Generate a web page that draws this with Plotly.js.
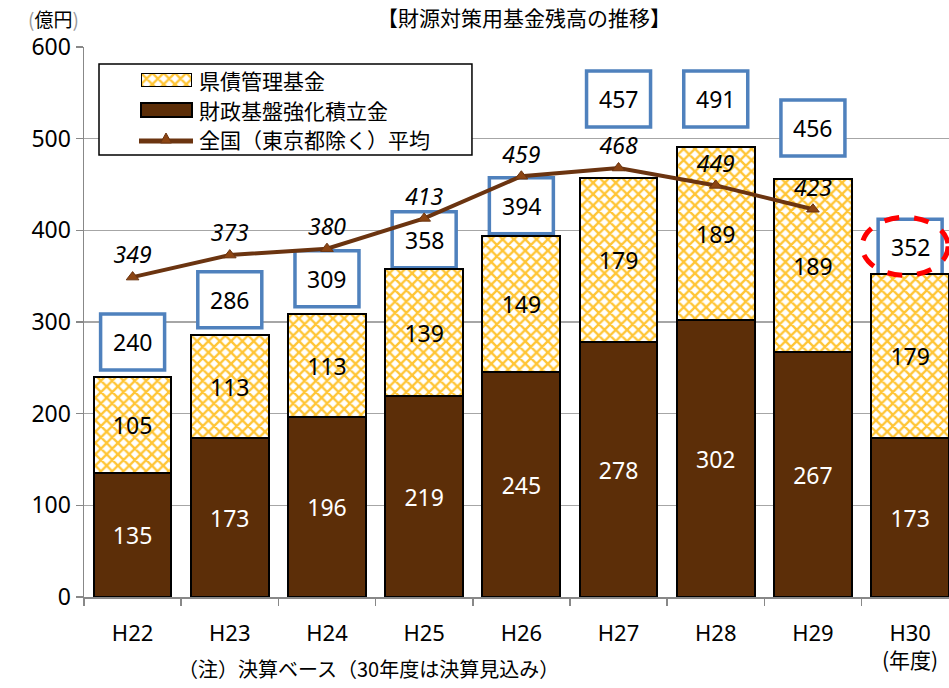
<!DOCTYPE html>
<html><head><meta charset="utf-8">
<script src="https://cdn.plot.ly/plotly-3.0.1.min.js"></script>
<style>html,body{margin:0;padding:0;background:#fff;}#c{width:949px;height:688px;}</style>
</head><body><div id="c"></div>
<script>
const categories = ['H22','H23','H24','H25','H26','H27','H28','H29','H30'];
const tickLabels = ['H22','H23','H24','H25','H26','H27','H28','H29','H30'];
const yearUnit = '(年度)';
const kensaiKanri = [105,113,113,139,149,179,189,189,179];   // 県債管理基金
const zaiseiKiban = [135,173,196,219,245,278,302,267,173];   // 財政基盤強化積立金
const totals = [240,286,309,358,394,457,491,456,352];
const avgCategories = ['H22','H23','H24','H25','H26','H27','H28','H29'];
const nationalAvg = [349,373,380,413,459,468,449,423];       // 全国（東京都除く）平均
const legendNames = ['県債管理基金','財政基盤強化積立金','全国（東京都除く）平均'];
const boxShift = [35,35,35,29,30,79,48,51,27];               // label box offset (px) above bar top

const FONT = '"Noto Sans CJK JP", "Noto Sans", sans-serif';
const NUMFONT = '"Noto Sans", "DejaVu Sans", sans-serif';
const BROWN = '#5C2E08', LINEC = '#6B3410', TRI = '#8C4513';
const PATTERN = {shape:'x', fgcolor:'#FFC535', bgcolor:'#FFFFFF', size:8, solidity:0.5, fillmode:'replace'};

// plot area geometry (pixels) for converting decoration positions
const L = 84, T = 47, W = 865, H = 550;
const px = v => (v - L) / W;
const py = v => (T + H - v) / H;

const traces = [
  {type:'bar', name:legendNames[1], x:categories, y:zaiseiKiban, showlegend:false,
   marker:{color:BROWN, line:{color:'#000', width:2}},
   texttemplate:'%{y}', textposition:'inside', insidetextanchor:'middle',
   textfont:{color:'#fff', size:23, family:NUMFONT}, hoverinfo:'skip'},
  {type:'bar', name:legendNames[0], x:categories, y:kensaiKanri, showlegend:false,
   marker:{color:'#fff', line:{color:'#000', width:2}, pattern:PATTERN},
   texttemplate:'%{y}', textposition:'inside', insidetextanchor:'middle',
   textfont:{color:'#000', size:23, family:NUMFONT}, hoverinfo:'skip'},
  {type:'scatter', mode:'lines+markers+text', name:legendNames[2], showlegend:false,
   x:avgCategories, y:nationalAvg,
   line:{color:LINEC, width:4},
   marker:{symbol:'triangle-up', size:11, color:TRI, line:{color:LINEC, width:1}},
   text:nationalAvg.map(v=>'<i>'+v+'</i>'), textposition:'top center',
   textfont:{size:23, color:'#000', family:NUMFONT}, hoverinfo:'skip'},
  // legend swatch for the patterned series (drawn in a tiny overlay subplot)
  {type:'bar', x:[0], y:[1], width:[1], xaxis:'x2', yaxis:'y2', showlegend:false, hoverinfo:'skip',
   marker:{color:'#fff', line:{color:'#000', width:2}, pattern:PATTERN}}
];

const shapes = [];
const annotations = [];
// legend box (between gridlines and traces, data-referenced so it hides gridlines)
shapes.push({type:'rect', layer:'between', xref:'x', yref:'y',
  x0:(99-L)/97.2-0.5, x1:(472-L)/97.2-0.5, y0:(T+H-155)/H*600, y1:(T+H-64)/H*600,
  line:{color:'#000', width:1.5}, fillcolor:'#fff'});
shapes.push({type:'rect', layer:'above', xref:'paper', yref:'paper',
  x0:px(141), x1:px(192), y0:py(117), y1:py(103), line:{color:'#000', width:2}, fillcolor:BROWN});
shapes.push({type:'line', layer:'above', xref:'paper', yref:'paper',
  x0:px(139), x1:px(193), y0:py(141), y1:py(141), line:{color:LINEC, width:5}});
shapes.push({type:'path', layer:'above', xref:'paper', yref:'paper',
  path:`M${px(160.5)},${py(143)} L${px(171.5)},${py(143)} L${px(166)},${py(133)} Z`,
  line:{color:LINEC, width:1}, fillcolor:TRI});
[80,110,139].forEach((yy,i)=>{
  annotations.push({xref:'paper', yref:'paper', x:px(197), y:py(yy), xanchor:'left', yanchor:'middle',
    showarrow:false, text:legendNames[i], font:{size:21, color:'#000', family:FONT}});
});

totals.forEach((t,i)=>{
  shapes.push({type:'rect', layer:'between', xref:'x', yref:'y', xsizemode:'pixel', ysizemode:'pixel',
    xanchor:i, yanchor:t, x0:-32, x1:32, y0:boxShift[i]-28, y1:boxShift[i]+28,
    line:{color:'#4F81BD', width:3.5}, fillcolor:'#fff'});
  annotations.push({xref:'x', yref:'y', x:categories[i], y:t, yshift:boxShift[i], showarrow:false,
    text:String(t), font:{size:23, color:'#000', family:NUMFONT}, xanchor:'center', yanchor:'middle'});
});
shapes.push({type:'circle', layer:'above', xref:'x', yref:'y', xsizemode:'pixel', ysizemode:'pixel',
  xanchor:8, yanchor:totals[8], x0:-48, x1:38, y0:-1, y1:57,
  line:{color:'#FF0000', width:5, dash:'dash'}});

annotations.push({xref:'x', yref:'paper', x:categories[8], y:py(659), showarrow:false, xanchor:'center', yanchor:'middle',
  text:yearUnit, font:{size:21, color:'#000', family:FONT}});
annotations.push({xref:'paper', yref:'paper', x:px(524), y:py(17), showarrow:false, xanchor:'center', yanchor:'middle',
  text:'【財源対策用基金残高の推移】', font:{size:21, color:'#000', family:FONT}});
annotations.push({xref:'paper', yref:'paper', x:px(53), y:py(19), showarrow:false, xanchor:'center', yanchor:'middle',
  text:'<span style="color:#999">(</span>億円<span style="color:#999">)</span>', font:{size:19, color:'#000', family:FONT}});
annotations.push({xref:'paper', yref:'paper', x:px(368), y:py(668), showarrow:false, xanchor:'center', yanchor:'middle',
  text:'（注）決算ベース（30年度は決算見込み）', font:{size:20, color:'#000', family:FONT}});

const layout = {
  width:949, height:688,
  margin:{l:L, r:0, t:T, b:688-T-H},
  paper_bgcolor:'#fff', plot_bgcolor:'rgba(0,0,0,0)',
  barmode:'stack', bargap:0.2,
  showlegend:false,
  xaxis:{type:'category', range:[-0.5,8.4], tickmode:'array', tickvals:categories, ticktext:tickLabels,
    tickson:'boundaries', ticks:'outside', ticklen:7, tickcolor:'#888', tickwidth:1.5,
    ticklabelstandoff:16,
    showline:true, linecolor:'#888', linewidth:1.5, showgrid:false,
    tickfont:{size:22, family:NUMFONT, color:'#000'}},
  yaxis:{range:[0,600], dtick:100, ticks:'outside', ticklen:7, tickcolor:'#888', tickwidth:1.5,
    showline:true, linecolor:'#888', linewidth:1.5, showgrid:true, gridcolor:'#A6A6A6', gridwidth:1.5,
    zeroline:false, tickfont:{size:23, family:NUMFONT, color:'#000'}},
  xaxis2:{domain:[px(141), px(192)], range:[-0.5,0.5], visible:false, anchor:'y2', fixedrange:true},
  yaxis2:{domain:[py(87), py(73)], range:[0,1], visible:false, anchor:'x2', fixedrange:true},
  shapes:shapes, annotations:annotations,
  font:{family:FONT}
};
Plotly.newPlot('c', traces, layout, {staticPlot:true, displayModeBar:false});
</script></body></html>
